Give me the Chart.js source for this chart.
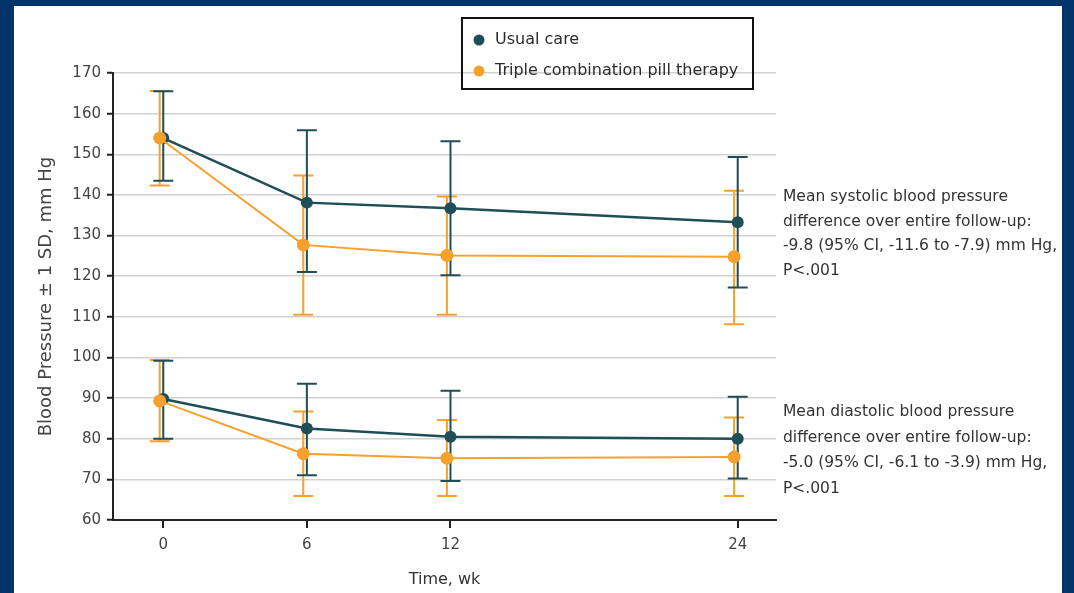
<!DOCTYPE html>
<html>
<head>
<meta charset="utf-8">
<script src="https://cdn.jsdelivr.net/npm/chart.js@4.4.1/dist/chart.umd.min.js"></script>
<style>
  html, body { margin: 0; padding: 0; width: 1074px; height: 593px; overflow: hidden; background: #01346a; }
  #frame { position: absolute; left: 14px; top: 6px; width: 1048px; height: 587px; background: #fff; }
</style>
</head>
<body>
<div id="frame"><canvas id="chart" width="1048" height="587"></canvas></div>
<script>
// time points (weeks) and axis ticks
const weeks = [0, 6, 12, 24];
const xTicks = [0, 6, 12, 24];
const yTicks = [60, 70, 80, 90, 100, 110, 120, 130, 140, 150, 160, 170];

// systolic, mean and +/- 1 SD
const usualSys = [154.0, 138.1, 136.7, 133.3];
const usualSysLo = [143.5, 121.0, 120.2, 117.2];
const usualSysHi = [165.5, 155.9, 153.2, 149.3];
const tripleSys = [154.0, 127.7, 125.1, 124.8];
const tripleSysLo = [142.3, 110.5, 110.5, 108.2];
const tripleSysHi = [165.6, 144.8, 139.6, 141.0];

// diastolic, mean and +/- 1 SD
const usualDia = [89.8, 82.5, 80.5, 80.0];
const usualDiaLo = [80.0, 71.0, 69.6, 70.2];
const usualDiaHi = [99.2, 93.5, 91.8, 90.3];
const tripleDia = [89.3, 76.3, 75.2, 75.5];
const tripleDiaLo = [79.4, 65.9, 65.9, 65.9];
const tripleDiaHi = [99.4, 86.7, 84.6, 85.2];

const legendLabels = ['Usual care', 'Triple combination pill therapy'];
const sysNote = ['Mean systolic blood pressure', 'difference over entire follow-up:',
  '-9.8 (95% CI, -11.6 to -7.9) mm Hg,', 'P<.001'];
const diaNote = ['Mean diastolic blood pressure', 'difference over entire follow-up:',
  '-5.0 (95% CI, -6.1 to -3.9) mm Hg,', 'P<.001'];

const DARK = '#1f4d58';
const ORANGE = '#f6a02d';
const FONT = '"DejaVu Sans", "Liberation Sans", sans-serif';
// small horizontal dodge so the two groups don't sit exactly on top of each other
const DODGE = -0.15;

function pts(vals, dodge) {
  return weeks.map((w, i) => ({ x: w + dodge, y: vals[i] }));
}

function series(vals, lo, hi, color, width, radius, dodge, order) {
  return {
    data: pts(vals, dodge),
    errLo: lo,
    errHi: hi,
    order: order,
    borderColor: color,
    backgroundColor: color,
    borderWidth: width,
    pointRadius: radius,
    pointHoverRadius: radius,
    pointBorderWidth: 0,
    tension: 0
  };
}

const errorBars = {
  id: 'errorBars',
  beforeDatasetsDraw(chart) {
    const { ctx, scales: { x, y } } = chart;
    // orange bars first, usual care bars over them
    chart.data.datasets.forEach(ds => {
      ctx.save();
      ctx.strokeStyle = ds.borderColor;
      ctx.lineWidth = 2;
      ds.data.forEach((p, i) => {
        const px = x.getPixelForValue(p.x);
        const top = y.getPixelForValue(ds.errHi[i]);
        const bot = y.getPixelForValue(ds.errLo[i]);
        ctx.beginPath();
        ctx.moveTo(px, top); ctx.lineTo(px, bot);
        ctx.moveTo(px - 10, top); ctx.lineTo(px + 10, top);
        ctx.moveTo(px - 10, bot); ctx.lineTo(px + 10, bot);
        ctx.stroke();
      });
      ctx.restore();
    });
  },
  afterDraw(chart) {
    const ctx = chart.ctx;
    ctx.save();
    // legend box
    ctx.strokeStyle = '#111';
    ctx.lineWidth = 2;
    ctx.strokeRect(448, 12, 291, 71);
    ctx.font = '16px ' + FONT;
    ctx.textBaseline = 'middle';
    ctx.textAlign = 'left';
    [DARK, ORANGE].forEach((c, i) => {
      const cy = 34 + i * 31;
      ctx.fillStyle = c;
      ctx.beginPath();
      ctx.arc(465, cy, 5.5, 0, Math.PI * 2);
      ctx.fill();
      ctx.fillStyle = '#2b2b2b';
      ctx.fillText(legendLabels[i], 481, cy);
    });
    // notes on the right
    ctx.font = '15.5px ' + FONT;
    ctx.fillStyle = '#333';
    sysNote.forEach((t, i) => ctx.fillText(t, 769, 191 + i * 24.5));
    diaNote.forEach((t, i) => ctx.fillText(t, 769, 406 + i * 25.5));
    ctx.restore();
  }
};

new Chart(document.getElementById('chart'), {
  type: 'line',
  data: {
    datasets: [
      series(tripleSys, tripleSysLo, tripleSysHi, ORANGE, 2, 6.5, DODGE, 0),
      series(tripleDia, tripleDiaLo, tripleDiaHi, ORANGE, 2, 6.5, DODGE, 0),
      series(usualSys, usualSysLo, usualSysHi, DARK, 2.5, 6, 0, 1),
      series(usualDia, usualDiaLo, usualDiaHi, DARK, 2.5, 6, 0, 1)
    ]
  },
  options: {
    responsive: false,
    animation: false,
    layout: { padding: { top: 67, right: 286, bottom: 0, left: 0 } },
    plugins: { legend: { display: false }, tooltip: { enabled: false } },
    scales: {
      x: {
        type: 'linear',
        min: -2.1,
        max: 25.6,
        afterBuildTicks: scale => { scale.ticks = xTicks.map(v => ({ value: v })); },
        afterFit: scale => { scale.height = 73; },
        border: { color: '#222', width: 2 },
        grid: { drawOnChartArea: false, tickLength: 8, color: '#222', lineWidth: 2 },
        ticks: { padding: 8, color: '#444', font: { family: FONT, size: 15 } },
        title: {
          display: true, text: 'Time, wk', color: '#333',
          font: { family: FONT, size: 16 }, padding: { top: 0, bottom: 4 }
        }
      },
      y: {
        min: 60,
        max: 170,
        afterBuildTicks: scale => { scale.ticks = yTicks.map(v => ({ value: v })); },
        afterFit: scale => { scale.width = 99; },
        border: { color: '#222', width: 2 },
        grid: { color: '#d2d2d2', lineWidth: 1.5, tickColor: '#222', tickWidth: 2, tickLength: 6 },
        ticks: { padding: 6, color: '#444', font: { family: FONT, size: 15 } },
        title: {
          display: true, text: 'Blood Pressure ± 1 SD, mm Hg', color: '#444',
          font: { family: FONT, size: 18 }, padding: { top: 22, bottom: 0 }
        }
      }
    }
  },
  plugins: [errorBars]
});
</script>
</body>
</html>
